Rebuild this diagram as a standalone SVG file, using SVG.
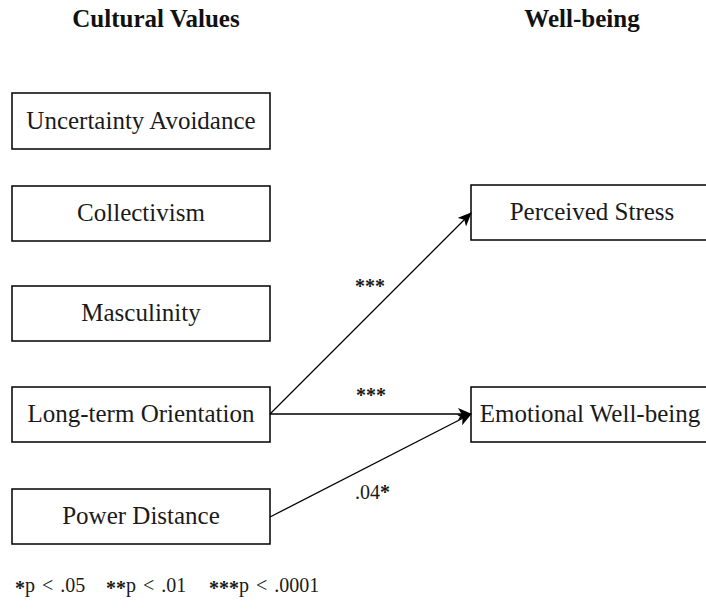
<svg xmlns="http://www.w3.org/2000/svg" width="706" height="610" viewBox="0 0 706 610">
  <style>
    .box { fill: #ffffff; stroke: #000000; stroke-width: 1.5; }
    text { font-family: 'Liberation Serif', 'DejaVu Serif', serif; }
    .lbl { font-size: 25px; fill: #1a1a1a; text-anchor: middle; }
    .title { font-size: 25px; font-weight: bold; fill: #111111; text-anchor: middle; }
    .edge { fill: none; stroke: #000000; stroke-width: 1.3; }
    .sig { font-size: 20px; fill: #1a1a1a; }
    .leg { font-size: 20px; fill: #1a1a1a; word-spacing: 2px; }
    .ast { font-weight: bold; }
  </style>
  <defs>
    <marker id="arrow" viewBox="0 0 14 12" refX="13" refY="6" markerWidth="14" markerHeight="12" markerUnits="userSpaceOnUse" orient="auto">
      <path d="M0,0 L14,6 L0,12 L3.5,6 Z" fill="#000000"/>
    </marker>
  </defs>

  <text class="title" x="156" y="27">Cultural Values</text>
  <text class="title" x="582" y="27">Well-being</text>

  <g id="uncertainty-avoidance">
    <rect class="box" x="12" y="93" width="258" height="56"/>
    <text class="lbl" x="141" y="129">Uncertainty Avoidance</text>
  </g>
  <g id="collectivism">
    <rect class="box" x="12" y="186" width="258" height="55"/>
    <text class="lbl" x="141" y="221">Collectivism</text>
  </g>
  <g id="masculinity">
    <rect class="box" x="12" y="286" width="258" height="55"/>
    <text class="lbl" x="141" y="321">Masculinity</text>
  </g>
  <g id="long-term-orientation">
    <rect class="box" x="12" y="387" width="258" height="55"/>
    <text class="lbl" x="141" y="422">Long-term Orientation</text>
  </g>
  <g id="power-distance">
    <rect class="box" x="12" y="489" width="258" height="55"/>
    <text class="lbl" x="141" y="524">Power Distance</text>
  </g>
  <g id="perceived-stress">
    <rect class="box" x="471" y="185" width="242" height="55"/>
    <text class="lbl" x="592" y="220">Perceived Stress</text>
  </g>
  <g id="emotional-well-being">
    <rect class="box" x="471" y="387" width="242" height="55"/>
    <text class="lbl" x="590" y="422">Emotional Well-being</text>
  </g>

  <g id="connectors">
    <line class="edge" x1="270" y1="414" x2="471" y2="213" marker-end="url(#arrow)"/>
    <line class="edge" x1="270" y1="414" x2="471" y2="414" marker-end="url(#arrow)"/>
    <line class="edge" x1="270" y1="517" x2="471" y2="414" marker-end="url(#arrow)"/>
    <text class="sig ast" x="355" y="293">***</text>
    <text class="sig ast" x="356" y="402">***</text>
    <text class="sig" x="355" y="499">.04<tspan class="ast">*</tspan></text>
  </g>

  <g id="legend">
    <text class="leg" x="15" y="592"><tspan class="ast" dy="3">*</tspan><tspan dy="-3">p &lt; .05</tspan></text>
    <text class="leg" x="106" y="592"><tspan class="ast" dy="3">**</tspan><tspan dy="-3">p &lt; .01</tspan></text>
    <text class="leg" x="209" y="592"><tspan class="ast" dy="3">***</tspan><tspan dy="-3">p &lt; .0001</tspan></text>
  </g>
</svg>
